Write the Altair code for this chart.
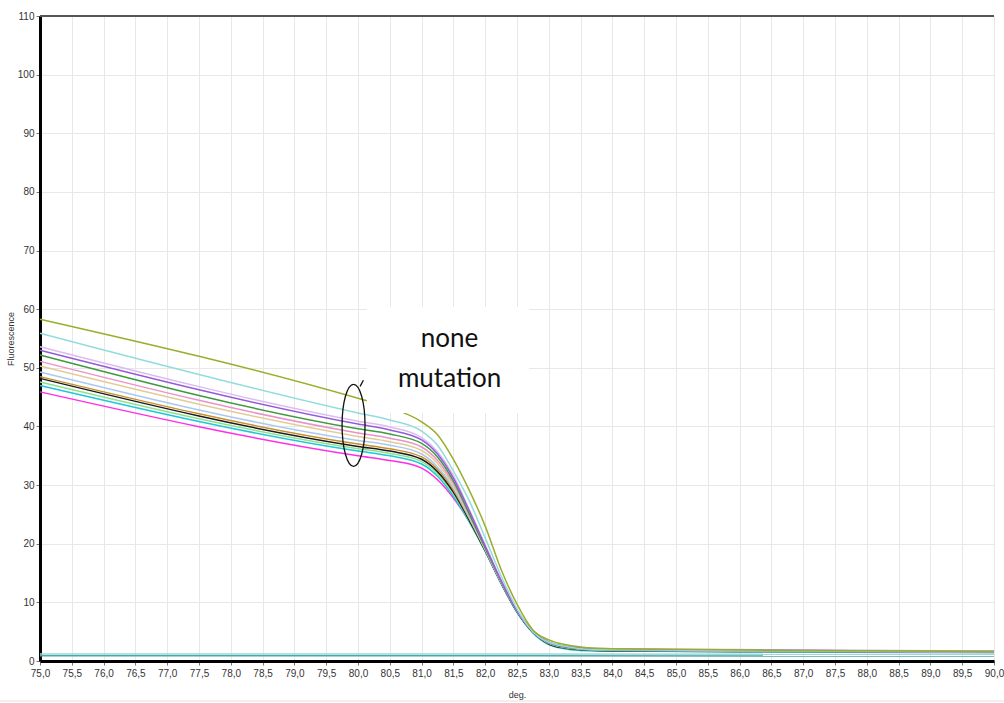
import altair as alt
import pandas as pd

# ---- data ----
TEMPS = [75.0, 80.0, 80.5, 81.0, 81.25, 81.5, 81.75, 82.0, 82.25, 82.5, 82.75,
         83.0, 83.25, 83.5, 84.0, 87.0, 90.0]

olive      = [58.3, 44.8, 43.2, 40.8, 38.6, 34.4, 29.1, 23.0, 15.6, 9.7, 5.3, 3.6, 2.8, 2.4, 2.1, 1.8, 1.6]
lightcyan  = [55.9, 42.3, 41.1, 39.2, 36.8, 32.4, 27.3, 21.0, 14.5, 8.9, 5.0, 3.2, 2.5, 2.1, 1.9, 1.7, 1.6]
lavender   = [53.6, 40.9, 39.9, 38.1, 35.7, 31.6, 25.8, 19.8, 13.8, 8.7, 5.2, 3.3, 2.6, 2.3, 2.1, 1.9, 1.7]
purple     = [53.0, 40.4, 39.4, 37.7, 35.3, 31.2, 25.6, 19.6, 13.7, 8.6, 5.1, 3.2, 2.5, 2.2, 2.0, 1.8, 1.6]
green      = [52.2, 39.6, 38.7, 37.1, 34.8, 30.7, 25.1, 19.3, 13.6, 8.6, 5.1, 3.1, 2.4, 2.1, 1.9, 1.7, 1.6]
pink       = [51.1, 38.9, 38.0, 36.5, 34.2, 30.3, 24.9, 19.2, 13.5, 8.5, 5.0, 3.1, 2.4, 2.1, 1.9, 1.7, 1.5]
tan        = [50.3, 38.3, 37.4, 35.9, 33.7, 29.9, 24.7, 19.1, 13.5, 8.6, 5.1, 3.1, 2.4, 2.1, 1.9, 1.7, 1.6]
lightblue  = [49.3, 37.6, 36.8, 35.3, 33.1, 29.5, 24.4, 19.0, 13.4, 8.5, 5.0, 3.0, 2.3, 2.0, 1.8, 1.6, 1.5]
brown      = [48.5, 37.0, 36.2, 34.8, 32.7, 29.2, 24.3, 19.0, 13.5, 8.6, 5.1, 3.1, 2.4, 2.1, 1.9, 1.8, 1.7]
black      = [48.2, 36.6, 35.8, 34.4, 32.3, 28.8, 24.0, 18.8, 13.3, 8.4, 4.9, 2.9, 2.2, 1.9, 1.7, 1.6, 1.5]
lightgreen = [47.6, 36.2, 35.4, 34.0, 31.9, 28.5, 23.9, 18.8, 13.3, 8.4, 4.9, 2.9, 2.2, 1.9, 1.8, 1.6, 1.5]
cyan       = [47.0, 35.8, 35.0, 33.6, 31.5, 28.1, 23.7, 18.7, 13.2, 8.3, 4.8, 2.8, 2.1, 1.8, 1.7, 1.5, 1.4]
magenta    = [45.9, 35.0, 34.2, 32.9, 30.9, 27.8, 23.8, 19.0, 13.5, 8.5, 5.0, 3.0, 2.3, 2.0, 1.8, 1.6, 1.5]

BASE_TEMPS = [75.0, 90.0]
base_a = [1.2, 1.15]
base_b = [0.9, 0.85]

SERIES = {
    "base A": (BASE_TEMPS, base_a, "#9fd6d6"),
    "base B": (BASE_TEMPS, base_b, "#4aa9a9"),
    "magenta": (TEMPS, magenta, "#ff2ee6"),
    "cyan": (TEMPS, cyan, "#1ec9d6"),
    "lightgreen": (TEMPS, lightgreen, "#8fe08f"),
    "black": (TEMPS, black, "#1a1a1a"),
    "brown": (TEMPS, brown, "#c8902c"),
    "lightblue": (TEMPS, lightblue, "#a9c9f2"),
    "tan": (TEMPS, tan, "#e3cc94"),
    "pink": (TEMPS, pink, "#ea92cb"),
    "green": (TEMPS, green, "#3d9b3d"),
    "lavender": (TEMPS, lavender, "#dcbcf2"),
    "purple": (TEMPS, purple, "#955bd6"),
    "lightcyan": (TEMPS, lightcyan, "#93dcdc"),
    "olive": (TEMPS, olive, "#9bad2b"),
}

X_TICKS = [75.0 + 0.5 * i for i in range(31)]
Y_TICKS = [0, 10, 20, 30, 40, 50, 60, 70, 80, 90, 100, 110]

# annotation (data coordinates)
BOX_X = [80.14, 82.69]
BOX_Y = [42.3, 60.4]
LABEL_X = [81.44, 81.44]
LABEL_Y = [53.6, 46.7]
LABEL_TEXT = ["none", "mutation"]
ELLIPSE_X = [79.93]
ELLIPSE_Y = [40.2]

rows = []
for name, (ts, vs, col) in SERIES.items():
    for t, v in zip(ts, vs):
        rows.append({"deg": t, "fluo": v, "series": name})
df = pd.DataFrame(rows)

names = list(SERIES.keys())
colors = [SERIES[n][2] for n in names]

LABEL_FONT = "Liberation Sans"

X_SCALE = alt.Scale(domain=[75, 90], nice=False, zero=False)
Y_SCALE = alt.Scale(domain=[0, 110], nice=False, zero=False)
X_AXIS = alt.Axis(
    values=X_TICKS,
    tickCount=31,
    labelExpr="replace(format(datum.value, '.1f'), '.', ',')",
    title="deg.",
    grid=True, gridColor="#e8e8e8", gridWidth=1,
    domainColor="#000000", domainWidth=3,
    tickColor="#777777", tickSize=4,
    labelFont=LABEL_FONT, labelFontSize=10, labelColor="#333333",
    labelPadding=3, labelFlush=False, labelOverlap=False,
    titleFont=LABEL_FONT, titleFontSize=9, titleFontWeight="normal",
    titleColor="#333333", titlePadding=12,
)
Y_AXIS = alt.Axis(
    values=Y_TICKS, format="d",
    title="Fluorescence",
    grid=True, gridColor="#e8e8e8", gridWidth=1,
    domainColor="#000000", domainWidth=3,
    tickColor="#777777", tickSize=4,
    labelFont=LABEL_FONT, labelFontSize=10, labelColor="#333333",
    labelPadding=2, labelOverlap=False,
    titleFont=LABEL_FONT, titleFontSize=9, titleFontWeight="normal",
    titleColor="#333333", titlePadding=2,
)


def xe():
    return alt.X("deg:Q", scale=X_SCALE, axis=X_AXIS)


def ye():
    return alt.Y("fluo:Q", scale=Y_SCALE, axis=Y_AXIS)


lines = alt.Chart(df).mark_line(interpolate="monotone", strokeWidth=1.5).encode(
    x=xe(),
    y=ye(),
    color=alt.Color("series:N", scale=alt.Scale(domain=names, range=colors), legend=None),
    order=alt.Order("deg:Q"),
    detail="series:N",
)

box_df = pd.DataFrame({"deg": [BOX_X[0]], "deg2": [BOX_X[1]], "fluo": [BOX_Y[0]], "fluo2": [BOX_Y[1]]})
box = alt.Chart(box_df).mark_rect(color="white").encode(
    x=xe(), x2="deg2:Q", y=ye(), y2="fluo2:Q"
)

lab_df = pd.DataFrame({"deg": LABEL_X, "fluo": LABEL_Y, "t": LABEL_TEXT})
labels = alt.Chart(lab_df).mark_text(
    font="Lato", fontSize=26, color="#111111", align="center", baseline="alphabetic"
).encode(x=xe(), y=ye(), text="t:N")

ELLIPSE_PATH = ("M0,-1 A0.28,1 0 1,1 0,1 A0.28,1 0 1,1 0,-1 Z "
                "M0.16,-0.95 L0.24,-1.1")
ell_df = pd.DataFrame({"deg": ELLIPSE_X, "fluo": ELLIPSE_Y})
ellipse = alt.Chart(ell_df).mark_point(
    shape=ELLIPSE_PATH, size=6724, filled=False, stroke="#111111", strokeWidth=1.3, opacity=1
).encode(x=xe(), y=ye())

top_border = alt.Chart(pd.DataFrame({"fluo": [110]})).mark_rule(
    color="#555555", strokeWidth=2
).encode(y=ye())

bottom_sep = alt.Chart(pd.DataFrame({"fluo": [0]})).mark_rule(
    color="#e0e0e0", strokeWidth=1
).encode(y=alt.value(685), x=alt.value(-40), x2=alt.value(964))

chart = alt.layer(lines, box, labels, ellipse, top_border, bottom_sep).properties(
    width=954,
    height=645,
    padding={"left": 40, "top": 16, "right": 10, "bottom": 42},
    autosize=alt.AutoSizeParams(type="none"),
    background="white",
).configure_view(stroke="#dddddd", strokeWidth=1)

chart.save("out.html", embed_options={"renderer": "svg", "actions": False})
